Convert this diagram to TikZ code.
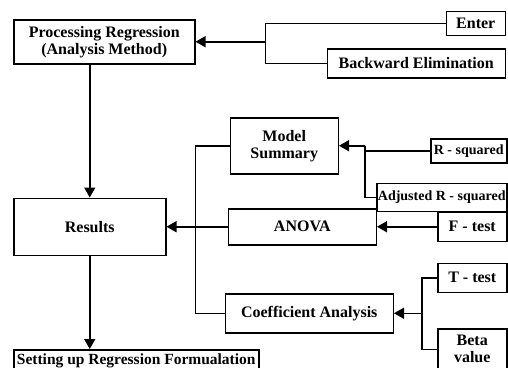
\documentclass[tikz,border=0pt]{standalone}
\usepackage{fontspec}
\setmainfont{Liberation Serif}
\usetikzlibrary{positioning, calc, arrows.meta}

\begin{document}
\begin{tikzpicture}[
    box/.style={draw, line width=1.5pt, inner sep=0pt, align=center,
        font=\fontsize{16}{17}\selectfont\bfseries},
    small/.style={font=\fontsize{14}{15}\selectfont\bfseries},
    link/.style={draw, line width=1.5pt},
    arrow/.style={draw, line width=1.5pt, -{Triangle[length=10pt, width=11pt]}}
]
    \useasboundingbox (0pt,0pt) rectangle (508pt,-367pt);

    % 左邊一列: processing -> results -> setting up
    \node[box, minimum width=181pt, minimum height=44pt, anchor=north west]
        at (13pt,-19pt) (Processing) {Processing Regression\\(Analysis Method)};
    \node[box, minimum width=152pt, minimum height=57pt,
        below right=133pt and 0pt of Processing.south west]  (Results)  {Results};
    \node[box, minimum width=245pt, minimum height=22pt,
        font=\fontsize{15.5}{16.5}\selectfont\bfseries,
        below right=93pt and 0pt of Results.south west]     (Setting)  {Setting up Regression Formualation};

    % method
    \node[box, minimum width=178pt, minimum height=29pt,
        below right=29pt and 131pt of Processing.north east] (Backward) {Backward Elimination};
    \node[box, minimum width=59pt, minimum height=24pt,
        above left=12pt and 0pt of Backward.north east]      (Enter)    {Enter};

    % 中間一列
    \node[box, minimum width=108pt, minimum height=56pt,
        above right=23pt and 63pt of Results.north east]     (Model)    {Model\\Summary};
    \node[box, minimum width=148pt, minimum height=36pt,
        right=61pt of Results]                               (ANOVA)    {ANOVA};
    \node[box, minimum width=168pt, minimum height=39pt,
        below right=37pt and 58pt of Results.south east]     (Coef)     {Coefficient Analysis};

    % 右邊一列
    \node[box, small, minimum width=130pt, minimum height=28pt,
        below right=8pt and 37pt of Model.south east]        (AdjR)     {Adjusted R - squared};
    \node[box, small, minimum width=76pt, minimum height=24pt,
        above left=19pt and 0pt of AdjR.north east]          (RSq)      {R - squared};
    \node[box, minimum width=69pt, minimum height=29pt,
        right=60pt of ANOVA]                                 (Ftest)    {F - test};
    \node[box, minimum width=69pt, minimum height=29pt,
        above right=0pt and 43pt of Coef.north east]         (Ttest)    {T - test};
    \node[box, minimum width=69pt, minimum height=41pt,
        below=35pt of Ttest]                                 (Beta)     {Beta\\value};

    \coordinate (J1) at ($(Processing.east)+(70pt,0)$);
    \coordinate (J2) at ($(Model.east)+(26pt,0)$);
    \coordinate (J3) at ($(Results.east)+(29pt,0)$);
    \coordinate (J4) at ($(Coef.east)+(28pt,0)$);

    \path[link]  (Enter.west) -| (J1) |- (Backward.west);
    \path[arrow] (J1) -- (Processing.east);
    \path[arrow] (Results.north |- Processing.south) -- (Results.north);
    \path[arrow] (Results.south) -- (Results.south |- Setting.north);

    \path[link]  (RSq.west) -| (J2) |- (AdjR.west);
    \path[arrow] (J2) -- (Model.east);
    \path[arrow] (Ftest) -- (ANOVA);
    \path[arrow] (ANOVA) -- (Results);
    \path[link]  (Model.west) -| (J3) |- (Coef.west);
    \path[link]  (Ttest.west) -| (J4) |- (Beta.west);
    \path[arrow] (J4) -- (Coef.east);
\end{tikzpicture}
\end{document}
